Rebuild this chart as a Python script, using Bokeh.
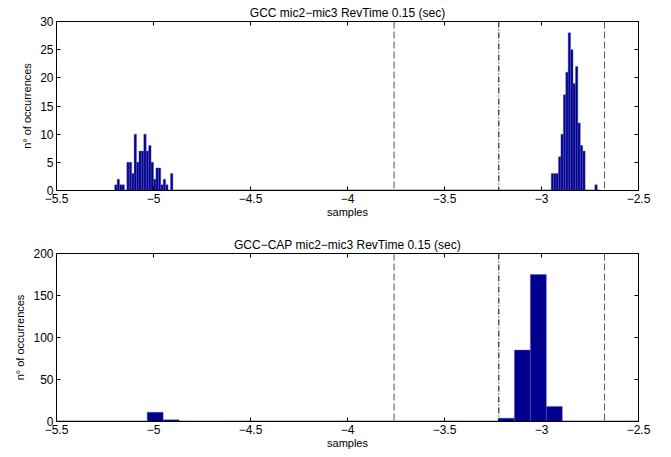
import numpy as np
from bokeh.plotting import figure
from bokeh.models import Span, FixedTicker, LinearAxis, Range1d, ColumnDataSource
from bokeh.layouts import column
from bokeh.embed import file_html
from bokeh.resources import INLINE

# ---------------- data ----------------
x_ticks = [-5.5, -5, -4.5, -4, -3.5, -3, -2.5]
x_tick_labels = ["\u22125.5", "\u22125", "\u22124.5", "\u22124", "\u22123.5", "\u22123", "\u22122.5"]
gcc_y_ticks = [0, 5, 10, 15, 20, 25, 30]
cap_y_ticks = [0, 50, 100, 150, 200]

threshold_dashed = [-3.76, -2.675]
threshold_dashdot = [-3.22]

gcc_title = "GCC mic2\u2212mic3 RevTime 0.15 (sec)"
cap_title = "GCC\u2212CAP mic2\u2212mic3 RevTime 0.15 (sec)"

# GCC histogram: 200 bins starting at -5.2
gcc_bin_start = -5.2
gcc_bin_width = 0.0125
gcc_n_bins = 200
gcc_left_first_bin = 0
gcc_left_counts = [1, 2, 1, 1, 0, 5, 5, 3, 10, 5, 7, 7, 10, 7, 8, 5, 2, 4, 4, 1, 2, 1, 0, 3]
gcc_right_first_bin = 180
gcc_right_counts = [3, 3, 3, 6, 10, 17, 21, 28, 25, 19, 22, 12, 8, 7]
gcc_outlier_bin = 198
gcc_outlier_count = 1

# GCC-CAP histogram
cap_bin_start = -5.5264
cap_bin_width = 0.0823
cap_counts = [0, 0, 0, 0, 0, 0, 11, 2, 0, 0, 0, 0, 0, 0, 0, 0, 0, 0, 0, 0,
              0, 0, 0, 0, 0, 0, 0, 0, 4, 85, 175, 18, 0, 0, 0, 0, 0]

# ---------------- build ----------------
gcc_counts = np.zeros(gcc_n_bins)
gcc_counts[gcc_left_first_bin:gcc_left_first_bin + len(gcc_left_counts)] = gcc_left_counts
gcc_counts[gcc_right_first_bin:gcc_right_first_bin + len(gcc_right_counts)] = gcc_right_counts
gcc_counts[gcc_outlier_bin] = gcc_outlier_count

FONT = "Liberation Sans"
NAVY = "#00008f"


def make_fig(title, counts, start, width, yticks, height, mbt, mbb):
    counts = np.asarray(counts, dtype=float)
    left = start + width * np.arange(len(counts))
    right = left + width
    p = figure(width=655, height=height,
               x_range=Range1d(x_ticks[0], x_ticks[-1]),
               y_range=Range1d(yticks[0], yticks[-1]),
               output_backend="svg", toolbar_location=None,
               min_border_left=56, min_border_right=17,
               min_border_top=mbt, min_border_bottom=mbb)
    p.title.text = title
    p.title.align = "center"
    p.title.text_font = FONT
    p.title.text_font_size = "12px"
    p.title.text_font_style = "normal"
    p.title.text_color = "black"
    p.title.standoff = 4
    p.title.offset = 0
    p.xgrid.visible = False
    p.ygrid.visible = False
    p.outline_line_color = "black"
    p.outline_line_alpha = 1

    zero = counts == 0
    src0 = ColumnDataSource(dict(left=left[zero], right=right[zero], top=counts[zero],
                                 bottom=np.zeros(zero.sum())))
    src1 = ColumnDataSource(dict(left=left[~zero], right=right[~zero], top=counts[~zero],
                                 bottom=np.zeros((~zero).sum())))
    p.quad(left="left", right="right", top="top", bottom="bottom", source=src0,
           fill_color=NAVY, line_color=NAVY, line_width=1.5)
    p.quad(left="left", right="right", top="top", bottom="bottom", source=src1,
           fill_color=NAVY, line_color="#5a5ab8", line_width=0.4)

    for v in threshold_dashed:
        p.add_layout(Span(location=v, dimension="height", line_color="#555555",
                          line_dash="7 3", line_width=1))
    for v in threshold_dashdot:
        p.add_layout(Span(location=v, dimension="height", line_color="black",
                          line_dash="6 2 1 2", line_width=1))

    xt = FixedTicker(ticks=x_ticks)
    yt = FixedTicker(ticks=yticks)
    bottom_ax = p.below[0]
    left_ax = p.left[0]
    bottom_ax.ticker = xt
    left_ax.ticker = yt
    bottom_ax.major_label_overrides = {t: l for t, l in zip(x_ticks, x_tick_labels)}
    bottom_ax.axis_label = "samples"
    left_ax.axis_label = "n\u00b0 of occurrences"

    top_ax = LinearAxis(ticker=xt)
    right_ax = LinearAxis(ticker=yt)
    p.add_layout(top_ax, "above")
    p.add_layout(right_ax, "right")

    for ax in [bottom_ax, left_ax, top_ax, right_ax]:
        ax.major_tick_in = 4
        ax.major_tick_out = 0
        ax.minor_tick_in = 0
        ax.minor_tick_out = 0
        ax.axis_line_color = "black"
        ax.major_tick_line_color = "black"
        ax.major_label_text_font = FONT
        ax.major_label_text_color = "black"
        ax.axis_label_text_font = FONT
        ax.axis_label_text_font_size = "11px"
        ax.axis_label_text_font_style = "normal"
        ax.axis_label_text_color = "black"
    for ax in [top_ax, right_ax]:
        ax.major_label_text_font_size = "1px"
        ax.major_label_text_alpha = 0
        ax.major_label_standoff = 0
    for ax in [bottom_ax, left_ax]:
        ax.major_label_text_font_size = "12px"
        ax.major_label_standoff = 3
        ax.axis_label_standoff = 0
    left_ax.axis_label_standoff = 4
    return p


p1 = make_fig(gcc_title, gcc_counts, gcc_bin_start, gcc_bin_width, gcc_y_ticks, 226, 21, 36)
p2 = make_fig(cap_title, cap_counts, cap_bin_start, cap_bin_width, cap_y_ticks, 229, 27, 34)

layout = column(p1, p2, spacing=0)
open("out.html", "w").write(file_html(layout, INLINE))
